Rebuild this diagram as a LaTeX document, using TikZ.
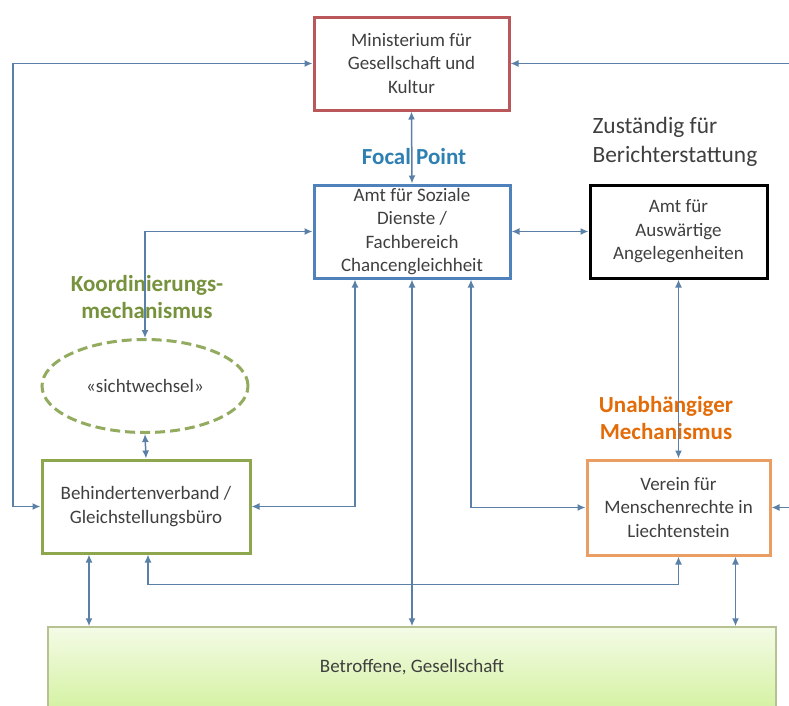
\documentclass[tikz,border=0pt]{standalone}
\usepackage{fontspec}
\setmainfont{Carlito}
\usepackage{xcolor}
\usetikzlibrary{arrows.meta,positioning,shapes.geometric}

\definecolor{linkblue}{HTML}{5B80A8}
\definecolor{minred}{HTML}{B9575A}
\definecolor{amtblue}{HTML}{4F81BD}
\definecolor{behindgreen}{HTML}{8EA64E}
\definecolor{sichtgreen}{HTML}{92AB5E}
\definecolor{vereinorange}{HTML}{EB9E63}
\definecolor{focalblue}{HTML}{2F80B2}
\definecolor{koogreen}{HTML}{76923C}
\definecolor{unaorange}{HTML}{E36C09}
\definecolor{txtgray}{HTML}{3F3F3F}
\definecolor{betrborder}{HTML}{B6C294}
\definecolor{betrtop}{HTML}{F4FBE6}
\definecolor{betrbot}{HTML}{D5F2A4}

\begin{document}
\begin{tikzpicture}[x=1pt,y=-1pt,
  >={Latex[length=8pt,width=7pt]},
  font=\fontsize{19}{23.5}\selectfont
]

\tikzstyle{box}=[draw,rectangle,line width=3pt,align=center,text=txtgray,inner sep=2pt]
\tikzstyle{link}=[linkblue,line width=1.5pt,<->]
\tikzset{label style/.style={font=\fontsize{23}{27}\selectfont\bfseries,align=center}}

\useasboundingbox (0,0) rectangle (789,705);

% boxes
\node[box,draw=minred,minimum width=195pt,minimum height=93pt] (mini) at (411.5,63.5)
  {Ministerium für\\Gesellschaft und\\Kultur};
\node[box,draw=amtblue,minimum width=196pt,minimum height=93pt] (amtsoz) at (412,231.5)
  {Amt für Soziale\\Dienste /\\Fachbereich\\Chancengleichheit};
\node[box,draw=black,minimum width=177pt,minimum height=93pt] (amtaus) at (678.5,231.5)
  {Amt für\\Auswärtige\\Angelegenheiten};
\node[ellipse,draw=sichtgreen,line width=3pt,dash pattern=on 10pt off 5pt,
  minimum width=206pt,minimum height=93pt,text=txtgray] (sicht) at (145,386) {«sichtwechsel»};
\node[box,draw=behindgreen,minimum width=208pt,minimum height=93pt] (behind) at (146,506.5)
  {Behindertenverband /\\Gleichstellungsbüro};
\node[box,draw=vereinorange,minimum width=183pt,minimum height=95pt] (verein) at (678.5,507.5)
  {Verein für\\Menschenrechte in\\Liechtenstein};
\node[draw=betrborder,line width=1.5pt,top color=betrtop,bottom color=betrbot,
  minimum width=728pt,minimum height=80pt,text=txtgray] (betr) at (412,667)
  {Betroffene, Gesellschaft};

% labels
\node[label style,text=focalblue] (focal) at (414,157) {Focal Point};
\node[font=\fontsize{23.4}{29.5}\selectfont,align=left,text=txtgray,anchor=west] (zust) at (589,142)
  {Zuständig für\\Berichterstattung};
\node[label style,text=koogreen] (koord) at (147,297) {Koordinierungs-\\mechanismus};
\node[label style,text=unaorange] (unab) at (666,418) {Unabhängiger\\Mechanismus};

% rails
\coordinate (lrail) at (13,0);
\coordinate (rrail) at (800,0);

% connectors
\draw[link] (mini.west) -- (mini.west -| lrail) |- (behind.west);
\draw[link] (mini.east) -- (mini.east -| rrail) |- (verein.east);
\draw[link] (mini.south) -- (amtsoz.north);
\draw[link] (amtsoz.west) -| (sicht.north);
\draw[link] (sicht.south) -- (behind.north);
\draw[link] ([xshift=-57pt]amtsoz.south) |- (behind.east);
\draw[link] (amtsoz.south) -- (amtsoz.south |- betr.north);
\draw[link] ([xshift=59pt]amtsoz.south) |- (verein.west);
\draw[link] (amtsoz.east) -- (amtaus.west);
\draw[link] (amtaus.south) -- (verein.north);
\draw[link] ([xshift=2pt]behind.south) -- ++(0,30) -| (verein.south);
\draw[link] ([xshift=-57pt]behind.south) -- ([xshift=-57pt]behind.south |- betr.north);
\draw[link] ([xshift=57pt]verein.south) -- ([xshift=57pt]verein.south |- betr.north);

\end{tikzpicture}
\end{document}
